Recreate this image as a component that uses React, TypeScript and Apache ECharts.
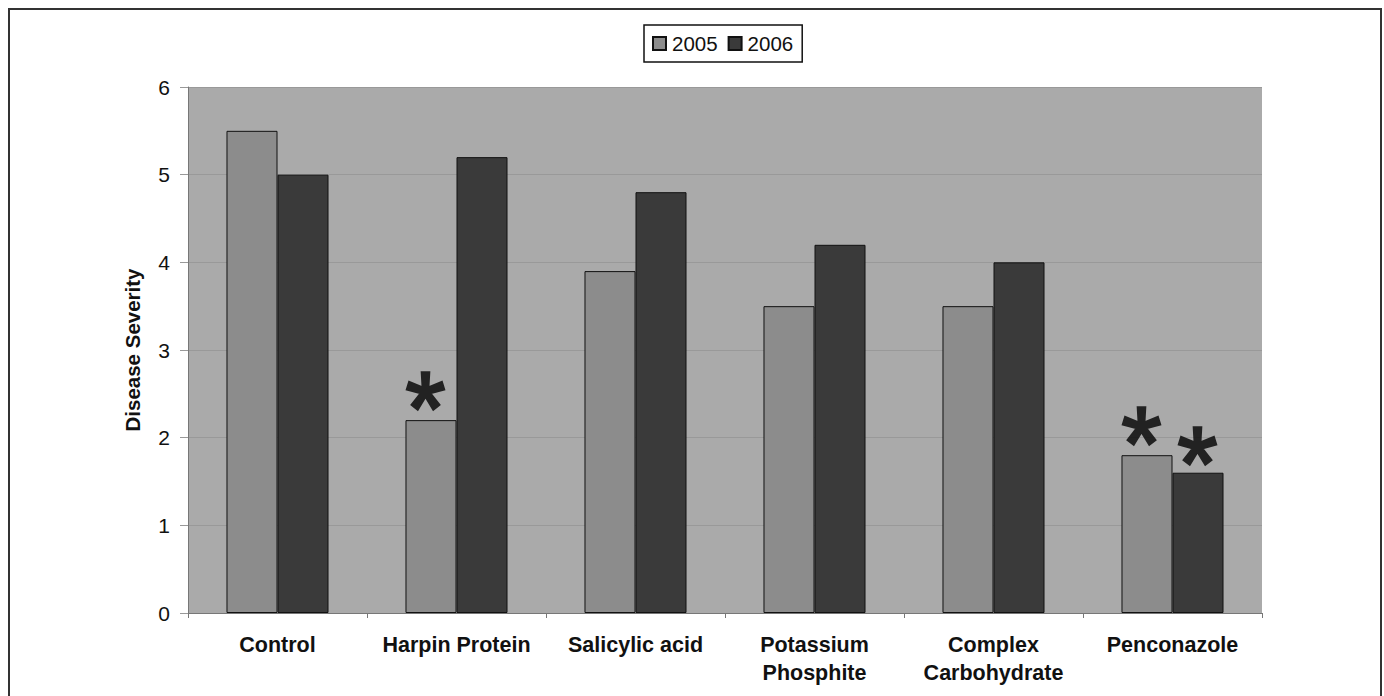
import React, { useEffect, useRef } from "react";
import * as echarts from "echarts";

const categories = [
  "Control",
  "Harpin Protein",
  "Salicylic acid",
  "Potassium\nPhosphite",
  "Complex\nCarbohydrate",
  "Penconazole",
];
const values2005 = [5.5, 2.2, 3.9, 3.5, 3.5, 1.8];
const values2006 = [5.0, 5.2, 4.8, 4.2, 4.0, 1.6];
const significant2005 = [false, true, false, false, false, true];
const significant2006 = [false, false, false, false, false, true];
const yTicks = [0, 1, 2, 3, 4, 5, 6];

function asteriskPath(): string {
  const parts: string[] = [];
  const f = (n: number) => n.toFixed(3);
  for (let i = 0; i < 5; i++) {
    const a = ((-90 + i * 72) * Math.PI) / 180;
    const px = -Math.sin(a);
    const py = Math.cos(a);
    const cx = Math.cos(a);
    const cy = Math.sin(a);
    const b0 = 0.19;
    const b1 = 0.25;
    const r = 1;
    const pts = [
      [px * b0, py * b0],
      [cx * r + px * b1, cy * r + py * b1],
      [cx * r - px * b1, cy * r - py * b1],
      [-px * b0, -py * b0],
    ];
    parts.push("M" + pts.map((p) => f(p[0]) + " " + f(p[1])).join(" L") + " Z");
  }
  const pent: number[][] = [];
  for (let i = 0; i < 5; i++) {
    const a = ((-54 - i * 72) * Math.PI) / 180;
    pent.push([Math.cos(a) * 0.32, Math.sin(a) * 0.32]);
  }
  parts.push("M" + pent.map((p) => f(p[0]) + " " + f(p[1])).join(" L") + " Z");
  return "path://" + parts.join(" ");
}

export default function App() {
  const ref = useRef<HTMLDivElement>(null);
  useEffect(() => {
    if (!ref.current) return;
    const chart = echarts.init(ref.current, undefined, { renderer: "svg" });
    const star = asteriskPath();
    const font = "Liberation Sans";
    chart.setOption({
      animation: false,
      textStyle: { fontFamily: font },
      graphic: [
        {
          type: "rect",
          shape: { x: 1, y: 1, width: 1372, height: 900 },
          style: { fill: "none", stroke: "#333", lineWidth: 2 },
          silent: true,
        },
      ],
      legend: {
        left: 636,
        top: 17,
        data: ["2005", "2006"],
        icon: "rect",
        itemWidth: 13,
        itemHeight: 13,
        itemGap: 10,
        padding: [8, 9, 8, 8],
        borderColor: "#111",
        borderWidth: 1.5,
        textStyle: { fontSize: 20.5, color: "#111", fontFamily: font, padding: [0, 0, 0, 1] },
      },
      grid: {
        left: 180,
        right: 122,
        top: 79,
        height: 526,
        show: true,
        backgroundColor: "#aaaaaa",
        borderWidth: 0,
      },
      xAxis: {
        type: "category",
        data: categories,
        axisLine: { show: true, lineStyle: { color: "#777", width: 1 } },
        axisTick: { show: true, alignWithLabel: false, length: 5, lineStyle: { color: "#777" } },
        axisLabel: {
          fontSize: 21.5,
          fontWeight: "bold",
          color: "#111",
          lineHeight: 28,
          margin: 18,
          interval: 0,
          fontFamily: font,
        },
      },
      yAxis: {
        type: "value",
        min: yTicks[0],
        max: yTicks[yTicks.length - 1],
        interval: 1,
        name: "Disease Severity",
        nameLocation: "middle",
        nameGap: 45,
        nameRotate: 90,
        nameTextStyle: { fontSize: 20.5, fontWeight: "bold", color: "#111", fontFamily: font },
        axisLine: { show: true, lineStyle: { color: "#777", width: 1 } },
        axisTick: { show: true, length: 8, lineStyle: { color: "#999" } },
        axisLabel: { fontSize: 21, color: "#111", margin: 18, fontFamily: font },
        splitLine: { show: true, lineStyle: { color: "#999", width: 1 } },
      },
      series: [
        {
          name: "2005",
          type: "bar",
          data: values2005,
          barGap: "0%",
          barCategoryGap: "43%",
          itemStyle: { color: "#8c8c8c", borderColor: "#111", borderWidth: 1 },
        },
        {
          name: "2006",
          type: "bar",
          data: values2006,
          barGap: "0%",
          barCategoryGap: "43%",
          itemStyle: { color: "#3a3a3a", borderColor: "#111", borderWidth: 1 },
        },
        {
          name: "sig2005",
          type: "scatter",
          data: values2005.map((v, i) => (significant2005[i] ? [i, v] : null)).filter((d) => d),
          symbol: star,
          symbolSize: 40,
          symbolOffset: [-31, -29],
          itemStyle: { color: "#000" },
          silent: true,
          z: 5,
        },
        {
          name: "sig2006",
          type: "scatter",
          data: values2006.map((v, i) => (significant2006[i] ? [i, v] : null)).filter((d) => d),
          symbol: star,
          symbolSize: 40,
          symbolOffset: [25, -26.5],
          itemStyle: { color: "#000" },
          silent: true,
          z: 5,
        },
      ],
    });
    return () => chart.dispose();
  }, []);
  return (
    <div
      ref={ref}
      style={{ width: 1376, height: 688, position: "absolute", left: 8, top: 8 }}
    />
  );
}
